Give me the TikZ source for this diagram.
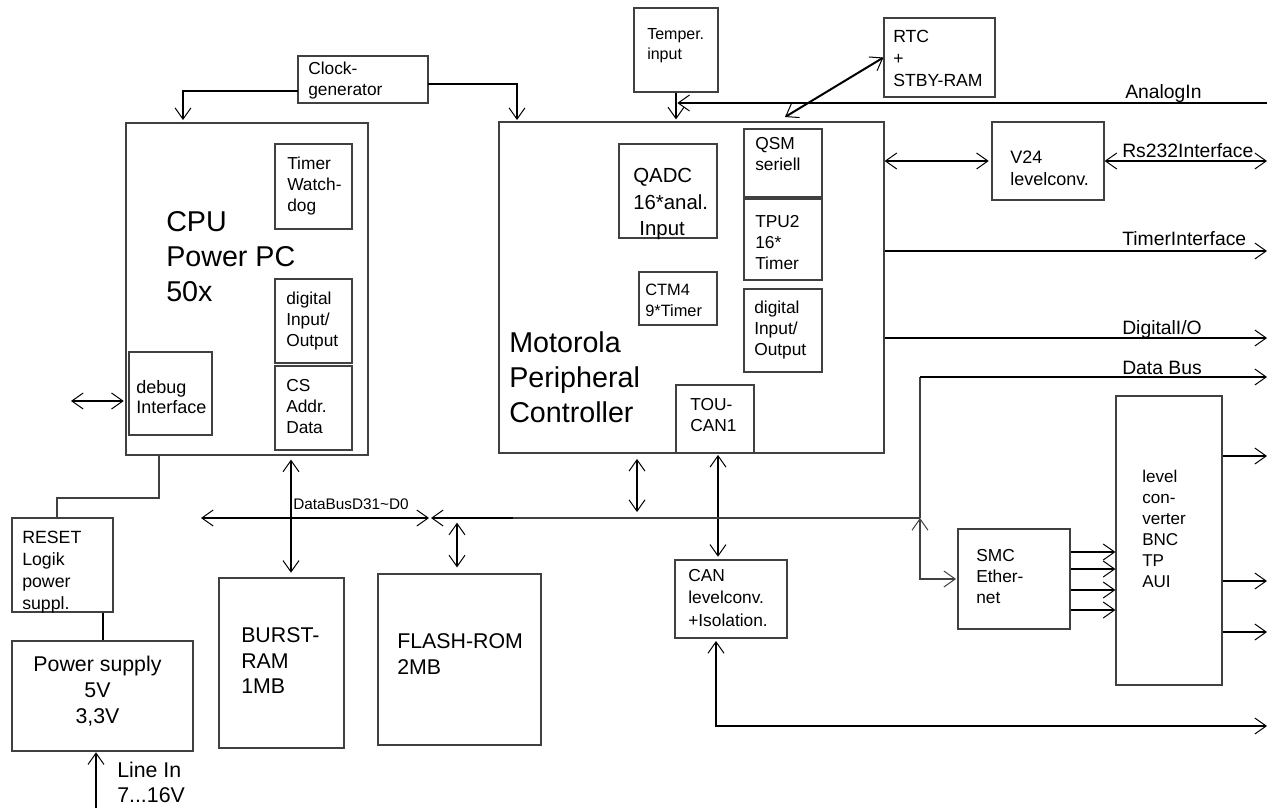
\documentclass[tikz,border=0pt]{standalone}
\usepackage{fontspec}
\setmainfont{Liberation Sans}
\usetikzlibrary{arrows.meta,fit}
\tikzstyle{box}=[draw=black!75,line width=0.9pt,inner sep=0pt]
\tikzstyle{sig}=[line width=1.5pt]
\tikzstyle{wire}=[draw=black!75,line width=0.9pt]
\tikzstyle{txt}=[inner sep=0pt,anchor=north west,align=left,font=\fontsize{13}{15.75}\selectfont]
\tikzstyle{midtxt}=[txt,font=\fontsize{16}{19.5}\selectfont]
\tikzstyle{bigtxt}=[txt,font=\fontsize{21.5}{26}\selectfont]
\tikzstyle{sigtxt}=[inner sep=0pt,anchor=base west,font=\fontsize{14.5}{17}\selectfont]

\begin{document}
\begin{tikzpicture}[x=0.75pt,y=-0.75pt,>={Straight Barb[length=8.5pt,width=12pt,line width=0.75pt]}]
\useasboundingbox (0,0) rectangle (1273,808);
% boxes
    \node[box,fit={(298,56) (428,103)}]   (clk)    {};
    \node[box,fit={(634,8) (718,92)}]     (temp)   {};
    \node[box,fit={(884,18) (995,97)}]    (rtc)    {};
    \node[box,fit={(126,123) (368,455)}]  (cpu)    {};
    \node[box,fit={(275,144) (352,229)}]  (wdog)   {};
    \node[box,fit={(275,279) (352,363)}]  (cpuio)  {};
    \node[box,fit={(275,366) (352,450)}]  (cs)     {};
    \node[box,fit={(129,352) (212,435)}]  (dbg)    {};
    \node[box,fit={(499,122) (884,453)}]  (mpc)    {};
    \node[box,fit={(619,144) (717,238)}]  (qadc)   {};
    \node[box,fit={(744,129) (822,197)}]  (qsm)    {};
    \node[box,fit={(744,199) (822,280)}]  (tpu)    {};
    \node[box,fit={(639,272) (717,325)}]  (ctm)    {};
    \node[box,fit={(744,289) (822,372)}]  (mpcio)  {};
    \node[box,fit={(676,385) (754,453)}]  (toucan) {};
    \node[box,fit={(992,122) (1104,200)}] (v24)    {};
    \node[box,fit={(1116,396) (1222,685)}] (lvl)   {};
    \node[box,fit={(958,529) (1070,629)}] (smc)    {};
    \node[box,fit={(675,560) (787,638)}]  (can)    {};
    \node[box,fit={(12,518) (113,612)}]   (reset)  {};
    \node[box,fit={(12,641) (193,751)}]   (psu)    {};
    \node[box,fit={(219,578) (344,748)}]  (bram)   {};
    \node[box,fit={(378,574) (541,745)}]  (flash)  {};
% texts
    \node[txt] (clk-t) at (308,62) {Clock-\\generator};
    \node[txt,font=\fontsize{12}{15}\selectfont] (temp-t) at (647,28.5) {Temper.\\input};
    \node[txt,font=\fontsize{13.2}{16.5}\selectfont] (rtc-t) at (893,29.5) {RTC\\+\\STBY-RAM};
    \node[bigtxt] (cpu-t) at (166,211.5) {CPU\\Power PC\\50x};
    \node[txt] (wdog-t) at (287,157) {Timer\\Watch-\\dog};
    \node[txt] (cpuio-t) at (286,292) {digital\\Input/\\Output};
    \node[txt] (cs-t) at (286,379) {CS\\Addr.\\Data};
    \node[txt,font=\fontsize{13.5}{15}\selectfont] (dbg-t) at (136,380) {debug\\Interface};
    \node[txt,font=\fontsize{15.3}{20}\selectfont] (qadc-t) at (633,168) {QADC\\16*anal.\\\hspace*{0.3em}Input};
    \node[txt] (qsm-t) at (755,137) {QSM\\seriell};
    \node[txt] (tpu-t) at (755,215) {TPU2\\16*\\Timer};
    \node[txt,font=\fontsize{12.3}{15.75}\selectfont] (ctm-t) at (645,283.5) {CTM4\\9*Timer};
    \node[txt] (mpcio-t) at (754,301) {digital\\Input/\\Output};
    \node[txt] (toucan-t) at (690,398) {TOU-\\CAN1};
    \node[bigtxt,font=\fontsize{21.5}{26.25}\selectfont] (mpc-t) at (509,331.5) {Motorola\\Peripheral\\Controller};
    \node[txt,font=\fontsize{13.5}{16.5}\selectfont] (v24-t) at (1010,151) {V24\\levelconv.};
    \node[txt,font=\fontsize{12.8}{15.75}\selectfont] (lvl-t) at (1142,470) {level\\con-\\verter\\BNC\\TP\\AUI};
    \node[txt] (smc-t) at (976,549) {SMC\\Ether-\\net};
    \node[txt,font=\fontsize{13}{16.9}\selectfont] (can-t) at (688,569) {CAN\\levelconv.\\+Isolation.};
    \node[txt,font=\fontsize{13.3}{16.5}\selectfont] (reset-t) at (22,531) {RESET\\Logik\\power\\suppl.};
    \node[midtxt,anchor=north,align=center] (psu-t) at (97.5,656) {Power supply\\5V\\3,3V};
    \node[midtxt,font=\fontsize{16}{19.1}\selectfont] (bram-t) at (241,627.5) {BURST-\\RAM\\1MB};
    \node[midtxt] (flash-t) at (397,633.5) {FLASH-ROM\\2MB};
    \node[midtxt,font=\fontsize{16}{18.75}\selectfont] (linein-t) at (117,761.5) {Line In\\7...16V};
    \node[inner sep=0pt,anchor=west,font=\fontsize{11.5}{14}\selectfont] (dbus-t) at (293,504) {DataBusD31\textasciitilde D0};
    \node[sigtxt] (ana-t) at (1125,98)  {AnalogIn};
    \node[sigtxt] (rs-t)  at (1122,157) {Rs232Interface};
    \node[sigtxt] (tim-t) at (1122,245) {TimerInterface};
    \node[sigtxt] (dio-t) at (1122,334) {DigitalI/O};
    \node[sigtxt] (db-t)  at (1122,374) {Data Bus};
% connector points
    \coordinate (clkA)  at (298,91);
    \coordinate (cpuIn) at (183,120);
    \coordinate (clkB)  at (428,84);
    \coordinate (mpcIn) at (517,120);
    \coordinate (anaR)  at (1267,103);
    \coordinate (rtcA)  at (785,117);
    \coordinate (rsR)   at (1267,161);
    \coordinate (timR)  at (1267,251);
    \coordinate (dioR)  at (1267,338);
    \coordinate (dbR)   at (1267,377);
    \coordinate (busJ)  at (920,518);
    \coordinate (busL)  at (201,518);
    \coordinate (busM)  at (429,518);
    \coordinate (busN)  at (431,518);
    \coordinate (busK)  at (513,518);
    \coordinate (canX)  at (718,0);
    \coordinate (canB)  at (716,641);
    \coordinate (canR)  at (1267,726);
    \coordinate (mbX)   at (637,0);
    \coordinate (csX)   at (291,0);
    \coordinate (flX)   at (457,0);
    \coordinate (rs1)   at (159,498);
    \coordinate (rs2)   at (57,498);
    \coordinate (psX)   at (103,0);
    \coordinate (lineIn) at (96,808);
    \coordinate (dbgL)  at (71,401);
% connectors
    \draw[sig,->] (clkA) -| (cpuIn);
    \draw[sig,->] (clkB) -| (mpcIn);
    \draw[sig,->,shorten >=1.5pt] (temp.south) -- (temp.south |- mpc.north);
    \draw[sig,->,shorten >=1pt] (anaR) -- (anaR -| temp.south);
    \draw[sig,<->] (rtcA) -- (rtc.west);
    \draw[sig,<->,shorten >=2pt] (v24.west -| mpc.east) -- (v24.west);
    \draw[sig,<->] (v24.east) -- (rsR);
    \draw[sig,->] (timR -| mpc.east) -- (timR);
    \draw[sig,->] (dioR -| mpc.east) -- (dioR);
    \draw[wire] (busJ) -- (busJ |- dbR);
    \draw[sig,->] (busJ |- dbR) -- (dbR);
    \draw[wire,<->,shorten >=1pt] (busJ) |- (smc.west);
    \foreach \y in {552,569,590,610}{
      \coordinate (t) at (0,\y);
      \draw[sig,->] (smc.east |- t) -- (lvl.west |- t);
    }
    \foreach \y in {456,581,632}{
      \coordinate (t) at (1267,\y);
      \draw[sig,->] (lvl.east |- t) -- (t);
    }
    \draw[sig,<->,shorten <=1pt,shorten >=2pt] (toucan.south -| canX) -- (can.north -| canX);
    \draw[sig,<->] (canB) |- (canR);
    \draw[sig,<->,shorten <=4pt,shorten >=4.5pt] (mpc.south -| mbX) -- (busJ -| mbX);
    \draw[sig,<->] (busL) -- (busM);
    \draw[sig,->] (busK) -- (busN);
    \draw[wire] (busK) -- (busJ);
    \draw[sig,<->,shorten <=3pt,shorten >=3.5pt] (cpu.south -| csX) -- (bram.north -| csX);
    \draw[sig,<->,shorten <=3.5pt,shorten >=4.5pt] (busJ -| flX) -- (flash.north -| flX);
    \draw[wire] (rs1 |- cpu.south) -- (rs1) -- (rs2) -- (rs2 |- reset.north);
    \draw[sig] (reset.south -| psX) -- (psu.north -| psX);
    \draw[sig,->,shorten >=0.5pt] (lineIn) -- (lineIn |- psu.south);
    \draw[sig,<->,shorten >=3.5pt] (dbgL) -- (dbgL -| dbg.west);
\end{tikzpicture}
\end{document}
